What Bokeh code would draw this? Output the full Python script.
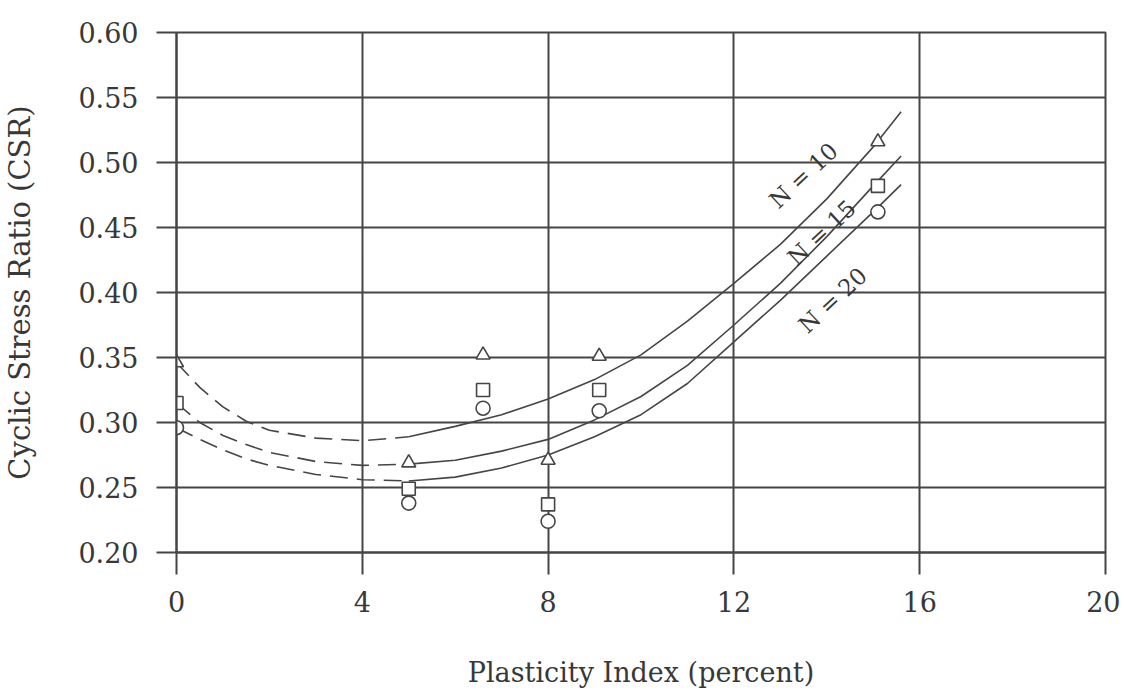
from bokeh.plotting import figure
from bokeh.models import Range1d, FixedTicker, NumeralTickFormatter, ColumnDataSource
from bokeh.embed import file_html
from bokeh.resources import INLINE
from bokeh.core.properties import value

# ---- data ----
x_ticks = [0, 4, 8, 12, 16, 20]
y_ticks = [0.20, 0.25, 0.30, 0.35, 0.40, 0.45, 0.50, 0.55, 0.60]

# measured points (plasticity index, CSR) for N = 10, 15, 20 cycles
pi_points = [0, 5, 6.6, 8, 9.1, 15.1]
csr_n10 = [0.346, 0.269, 0.352, 0.271, 0.351, 0.516]
csr_n15 = [0.315, 0.249, 0.325, 0.237, 0.325, 0.482]
csr_n20 = [0.296, 0.238, 0.311, 0.224, 0.309, 0.462]

# fitted curves
curve_pi = [0, 0.5, 1, 1.5, 2, 3, 4, 5, 6, 7, 8, 9, 10, 11, 12, 13, 14, 15, 15.6]
curve_n10 = [0.346, 0.327, 0.312, 0.301, 0.294, 0.288, 0.286, 0.289, 0.297, 0.306,
             0.318, 0.333, 0.352, 0.378, 0.407, 0.437, 0.472, 0.512, 0.539]
curve_n15 = [0.315, 0.300, 0.290, 0.283, 0.277, 0.270, 0.267, 0.268, 0.271, 0.278,
             0.287, 0.302, 0.320, 0.344, 0.375, 0.407, 0.443, 0.482, 0.505]
curve_n20 = [0.296, 0.287, 0.279, 0.272, 0.267, 0.260, 0.256, 0.255, 0.258, 0.265,
             0.275, 0.289, 0.306, 0.330, 0.362, 0.394, 0.428, 0.462, 0.483]
dash_until = 5  # curves are dashed below this plasticity index

label_text = ["N = 10", "N = 15", "N = 20"]
label_pi = [13.5, 13.89, 14.13]
label_csr = [0.490, 0.446, 0.394]

# ---- styling ----
INK = "#454545"
TXT = "#383838"
FONT = "DejaVu Serif"

p = figure(width=1120, height=690,
           x_range=Range1d(0, 20), y_range=Range1d(0.2, 0.6),
           output_backend="svg", toolbar_location=None,
           min_border_left=172, min_border_right=15,
           min_border_top=32, min_border_bottom=137,
           background_fill_color="white", border_fill_color="white")

p.outline_line_color = INK
p.outline_line_width = 2

p.xaxis.ticker = FixedTicker(ticks=x_ticks)
p.yaxis.ticker = FixedTicker(ticks=y_ticks)
p.yaxis.formatter = NumeralTickFormatter(format="0.00")
p.xgrid.ticker = FixedTicker(ticks=x_ticks)
p.ygrid.ticker = FixedTicker(ticks=y_ticks)
for g in (p.xgrid, p.ygrid):
    g.grid_line_color = INK
    g.grid_line_width = 2
    g.grid_line_alpha = 1.0

for ax in (p.xaxis, p.yaxis):
    ax.axis_line_color = INK
    ax.axis_line_width = 2
    ax.major_tick_in = 0
    ax.minor_tick_in = 0
    ax.minor_tick_out = 0
    ax.major_tick_line_color = INK
    ax.major_tick_line_width = 2
    ax.major_label_text_font = FONT
    ax.major_label_text_font_size = "27px"
    ax.major_label_text_color = TXT
    ax.axis_label_text_font = FONT
    ax.axis_label_text_font_style = "normal"
    ax.axis_label_text_color = TXT

p.xaxis.major_tick_out = 22
p.yaxis.major_tick_out = 20
p.xaxis.major_label_standoff = 16
p.yaxis.major_label_standoff = 18
p.xaxis.axis_label = "Plasticity Index (percent)"
p.yaxis.axis_label = "Cyclic Stress Ratio (CSR)"
p.xaxis.axis_label_text_font_size = "27px"
p.yaxis.axis_label_text_font_size = "29px"
p.xaxis.axis_label_standoff = 42
p.yaxis.axis_label_standoff = 38

# curves: dashed part then solid part
for cy in (curve_n10, curve_n15, curve_n20):
    dx = [x for x in curve_pi if x <= dash_until]
    dy = [y for x, y in zip(curve_pi, cy) if x <= dash_until]
    sx = [x for x in curve_pi if x >= dash_until]
    sy = [y for x, y in zip(curve_pi, cy) if x >= dash_until]
    p.line(dx, dy, line_color=INK, line_width=1.6, line_dash="18 9")
    p.line(sx, sy, line_color=INK, line_width=1.6)

# data markers
p.scatter(pi_points, csr_n10, marker="triangle", size=14, fill_color="white",
          line_color=INK, line_width=1.6)
p.scatter(pi_points, csr_n15, marker="square", size=13, fill_color="white",
          line_color=INK, line_width=1.6)
p.scatter(pi_points, csr_n20, marker="circle", size=14, fill_color="white",
          line_color=INK, line_width=1.6)

src = ColumnDataSource(dict(x=label_pi, y=label_csr, t=label_text))
p.text(x="x", y="y", text="t", source=src, angle=0.75,
       text_font=value(FONT), text_font_size=value("23px"), text_color=TXT,
       text_align="center", text_baseline="middle")

open("out.html", "w").write(file_html(p, INLINE))
